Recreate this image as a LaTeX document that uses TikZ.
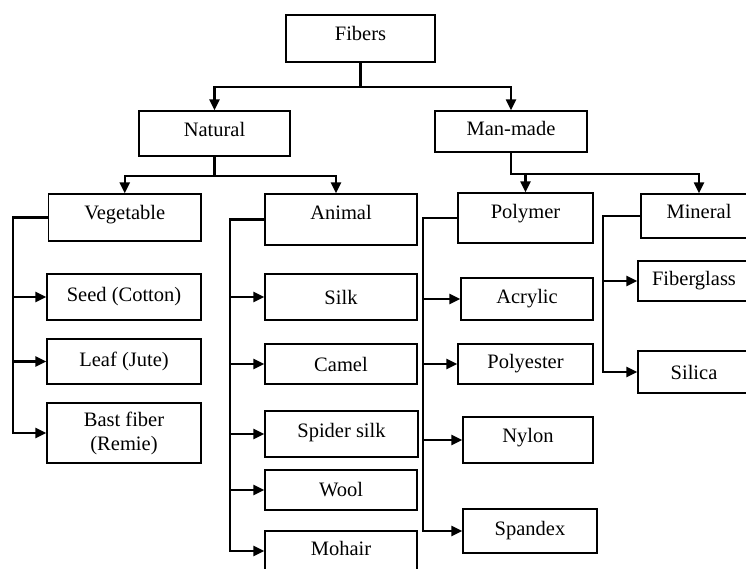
\documentclass[tikz,border=0pt]{standalone}
\usepackage{fontspec}
\setmainfont{Liberation Serif}
\usetikzlibrary{arrows.meta}
\tikzset{
  box/.style={draw, line width=1.3pt, inner sep=2pt, align=center,
    font=\fontsize{20.5pt}{24pt}\selectfont},
  sz/.style 2 args={minimum width=#1, minimum height=#2},
  lift/.style={text depth=#1},
  link/.style={line width=2.2pt},
  arr/.style={link, -{Triangle[length=11pt,width=10pt]}},
}

\begin{document}
\begin{tikzpicture}[x=1pt,y=-1pt]
  \useasboundingbox (0,0) rectangle (746,569);
  \draw[every node/.style=box]
    (360.5,38.5) node[sz={149}{47}, lift=11pt] (fibers){Fibers}
    (214.5,133.5) node[sz={151}{45}, lift=9pt] (natural){Natural}
    (511,131.5) node[sz={152}{41}, lift=7pt] (manmade){Man-made}
    (124.75,217.5) node[sz={152.5}{47}, lift=10pt] (vegetable){Vegetable}
    (341,219.5) node[sz={152}{51}, lift=14pt] (animal){Animal}
    (525.5,218) node[sz={135}{50}, lift=14pt] (polymer){Polymer}
    (699,216) node[sz={116}{44}, lift=10pt] (mineral){Mineral}
    (124,297) node[sz={154}{46}] (seed){Seed (Cotton)}
    (124,361.5) node[sz={154}{45}] (leaf){Leaf (Jute)}
    (124,433) node[sz={154}{60}] (bast){Bast fiber\\(Remie)}
    (341,297) node[sz={152}{46}] (silk){Silk}
    (341,364) node[sz={152}{40}] (camel){Camel}
    (341.5,434) node[sz={153}{46}, lift=8pt] (spider){Spider silk}
    (341,490) node[sz={152}{40}] (wool){Wool}
    (341,551) node[sz={152}{40}, lift=6pt] (mohair){Mohair}
    (527,299) node[sz={132}{42}] (acrylic){Acrylic}
    (525.5,364) node[sz={135}{40}] (polyester){Polyester}
    (528,440) node[sz={130}{46}, lift=10pt] (nylon){Nylon}
    (530,531) node[sz={134}{44}] (spandex){Spandex}
    (694,281) node[sz={112}{40}] (fiberglass){Fiberglass}
    (694,372) node[sz={112}{42}] (silica){Silica};
  \begin{scope}[arr]
    % top levels
    \draw (fibers.south) -- ++(0,24) -| (natural.north);
    \draw (fibers.south) -- ++(0,24) -| (manmade.north);
    \draw (natural.south) -- ++(0,19) -| (vegetable.north);
    \draw (natural.south) -- ++(0,19) -| ([xshift=-5pt]animal.north);
    \draw (manmade.south) -- ++(0,21) -| (polymer.north);
    \draw (manmade.south) -- ++(0,21) -| (mineral.north);
    % leaves
    \foreach \c in {seed,leaf,bast}
      \draw (vegetable.west) -- ++(-35,0) |- (\c.west);
    \foreach \c in {silk,camel,spider,wool,mohair}
      \draw (animal.west) -- ++(-34.5,0) |- (\c.west);
    \foreach \c in {acrylic,polyester,nylon,spandex}
      \draw (polymer.west) -- ++(-34,0) |- (\c.west);
    \foreach \c in {fiberglass,silica}
      \draw (mineral.west) -- ++(-37,0) |- (\c.west);
  \end{scope}
\end{tikzpicture}
\end{document}
